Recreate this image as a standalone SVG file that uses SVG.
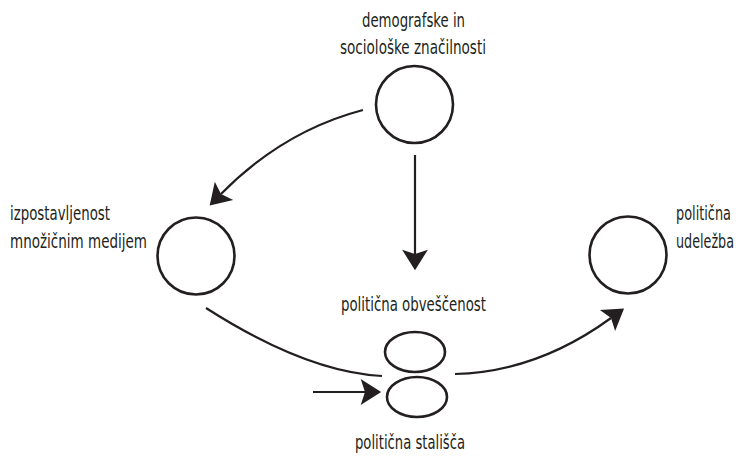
<svg xmlns="http://www.w3.org/2000/svg" width="743" height="457" viewBox="0 0 743 457">
<style>
.lbl{font-family:"DejaVu Sans Condensed","DejaVu Sans","Liberation Sans",sans-serif;font-stretch:condensed;font-size:20px;fill:#231f20}
.node{fill:none;stroke:#231f20;stroke-width:2.6}
.con{fill:none;stroke:#231f20;stroke-width:2.2}
</style>
<defs>
<marker id="ah" markerUnits="userSpaceOnUse" markerWidth="24" markerHeight="28" viewBox="-1 -13 22 26" refX="4" refY="0" orient="auto">
<path d="M0,-12 L19,0 L0,12 L4,0 Z" fill="#231f20"/>
</marker>
</defs>
<rect width="743" height="457" fill="#ffffff"/>
<g id="connectors">
<path class="con" d="M363,110 Q283,131 221,194" marker-end="url(#ah)"/>
<path class="con" d="M415,155 L415,254" marker-end="url(#ah)"/>
<path class="con" d="M206,308 Q306,372 382,376"/>
<path class="con" d="M455,374 Q537,372 611,318" marker-end="url(#ah)"/>
<path class="con" d="M313,392 L365,392" marker-end="url(#ah)"/>
</g>
<g id="demografske">
<circle class="node" cx="414.5" cy="104.5" r="38.5"/>
<text class="lbl" x="362" y="27" textLength="103" lengthAdjust="spacingAndGlyphs">demografske in</text>
<text class="lbl" x="340" y="54" textLength="146" lengthAdjust="spacingAndGlyphs">sociološke značilnosti</text>
</g>
<g id="izpostavljenost">
<circle class="node" cx="196" cy="256" r="38.5"/>
<text class="lbl" x="10" y="220" textLength="100" lengthAdjust="spacingAndGlyphs">izpostavljenost</text>
<text class="lbl" x="10" y="248" textLength="137" lengthAdjust="spacingAndGlyphs">množičnim medijem</text>
</g>
<g id="udelezba">
<circle class="node" cx="628" cy="255" r="38.5"/>
<text class="lbl" x="676" y="220" textLength="55" lengthAdjust="spacingAndGlyphs">politična</text>
<text class="lbl" x="676" y="248" textLength="58" lengthAdjust="spacingAndGlyphs">udeležba</text>
</g>
<g id="obvescenost">
<ellipse class="node" cx="415" cy="352" rx="30" ry="20"/>
<text class="lbl" x="341" y="311" textLength="145" lengthAdjust="spacingAndGlyphs">politična obveščenost</text>
</g>
<g id="stalisca">
<ellipse class="node" cx="417" cy="397" rx="30" ry="20"/>
<text class="lbl" x="355" y="449" textLength="110" lengthAdjust="spacingAndGlyphs">politična stališča</text>
</g>
</svg>
